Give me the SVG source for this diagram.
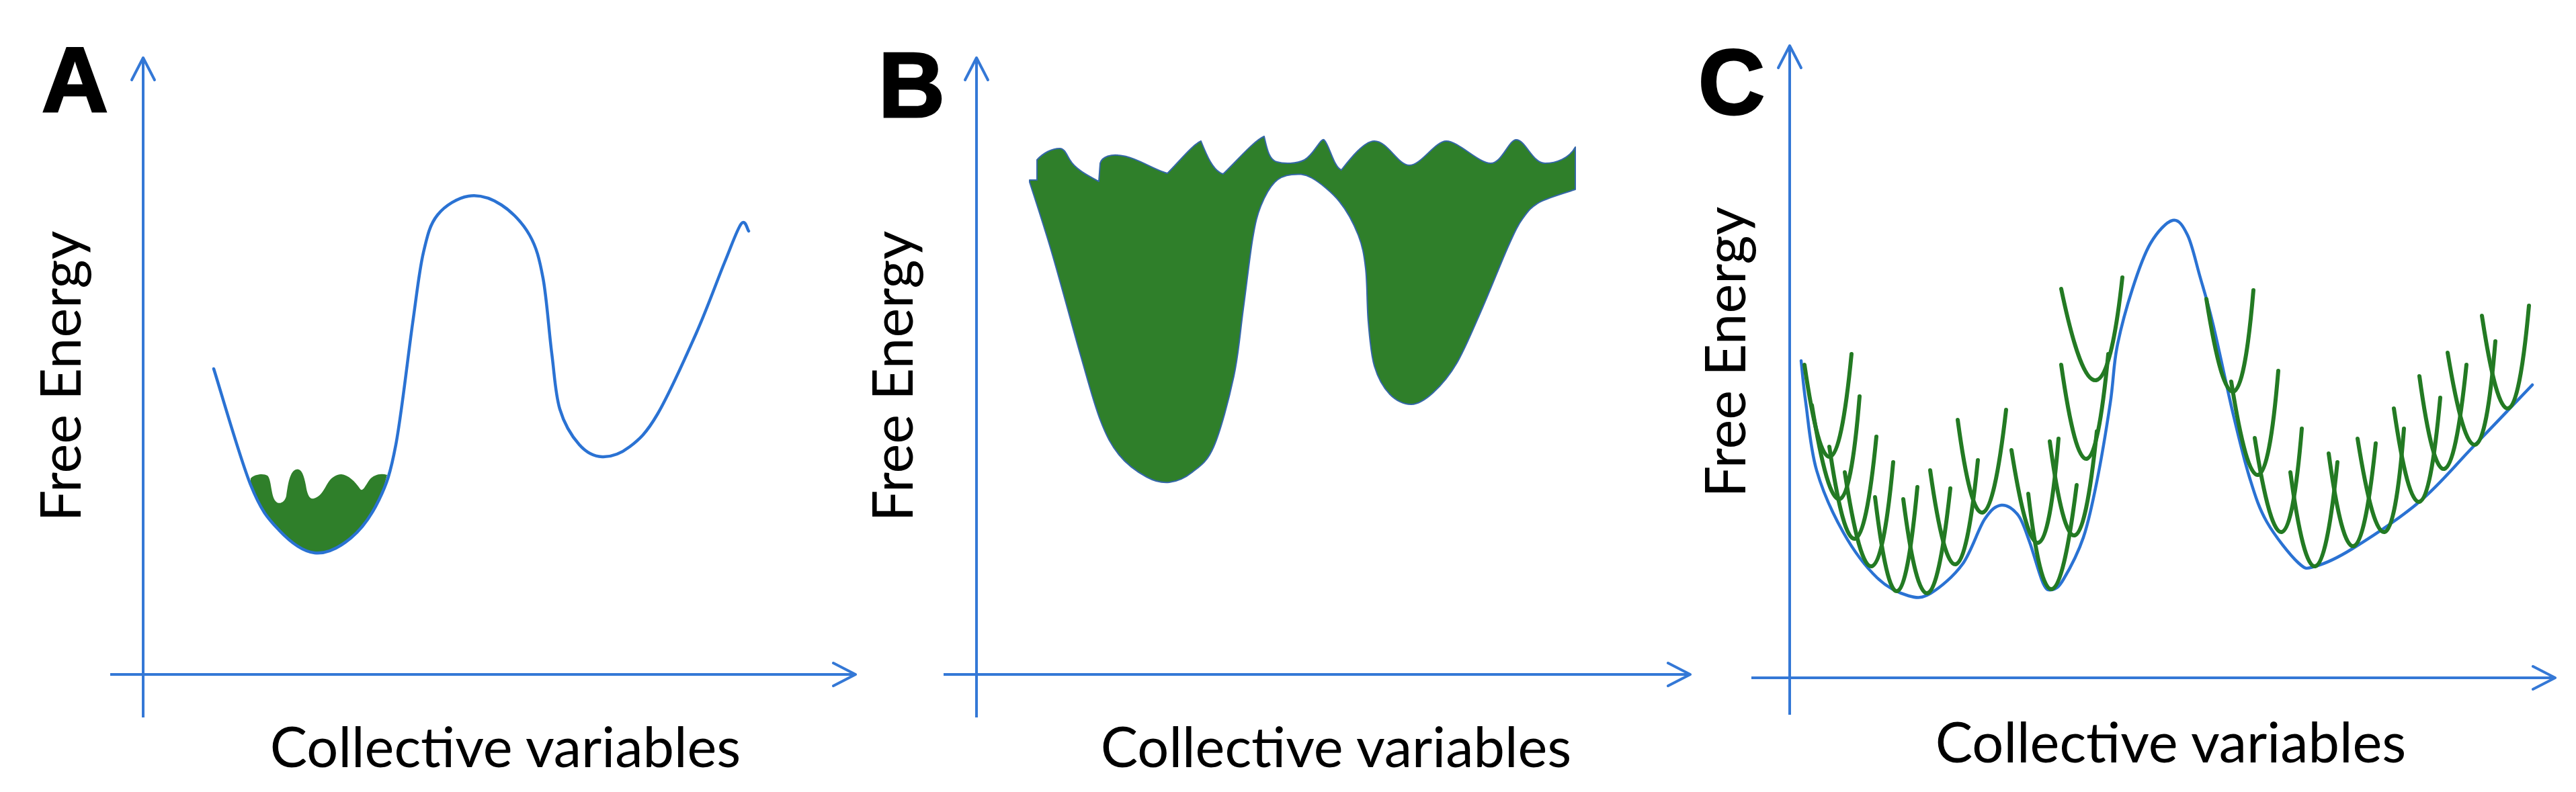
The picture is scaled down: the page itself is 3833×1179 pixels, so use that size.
<svg xmlns="http://www.w3.org/2000/svg" width="3833" height="1179" viewBox="0 0 3833 1179">
<style>
.bg{fill:#ffffff}
.axis{fill:none;stroke:#3478D6;stroke-width:4;marker-end:url(#arr)}
.curve{fill:none;stroke:#2A72D3;stroke-width:4.5;stroke-linecap:round;stroke-linejoin:round}
.fill{fill:#2F7F2A}
.fillB{fill:#2F7F2A;stroke:#3567A8;stroke-width:2;stroke-linejoin:round}
.para{fill:none;stroke:#237A23;stroke-width:6;stroke-linecap:round}
.lbl{font-family:Lato,"Liberation Sans",sans-serif;font-size:83px;fill:#000000}
.letter{font-family:"Liberation Sans",Arial,sans-serif;font-weight:700;font-size:137px;fill:#000000;stroke:#000000;stroke-width:3}
</style>
<defs>
<marker id="arr" markerUnits="userSpaceOnUse" viewBox="-40 -25 50 50" refX="0" refY="0" markerWidth="50" markerHeight="50" orient="auto" overflow="visible">
<path d="M-33,-17 L0,0 L-33,17" fill="none" stroke="#3478D6" stroke-width="4" stroke-linecap="round" stroke-linejoin="round"/>
</marker>
</defs>
<rect class="bg" x="0" y="0" width="3833" height="1179"/>

<g id="panel-A">
<text class="letter" x="62" y="166">A</text>
<g id="axes-A">
<line class="axis" x1="213" y1="1068" x2="213" y2="86"/>
<line class="axis" x1="164" y1="1004" x2="1273" y2="1004"/>
</g>
<text class="lbl" text-anchor="middle" transform="translate(120,560) rotate(-90)">Free Energy</text>
<text class="lbl" text-anchor="middle" x="752" y="1142">Collective variables</text>
<path id="fill-A" class="fill" d="M373,712 C378,706 392,704 398,708 C404,713 403,738 410,746 C415,752 424,748 426,738 C428,726 430,703 440,699 C448,696 452,706 455,722 C457,735 460,744 467,742 C475,740 480,733 486,722 C492,711 500,706 508,706 C518,707 528,716 536,728 C540,733 544,722 550,714 C556,707 566,704 576,707 C572,722 568,735 564,744 C552.8,767.2 538,787.8 522,801 C506,814.2 485.8,825 468,823 C450.2,821 430.8,805.8 415,789 C399.2,772.2 389.2,762 373,722 Z"/>
<path id="curve-A" class="curve" d="M318,549 C327.2,577.8 356.8,682 373,722 C389.2,762 399.2,772.2 415,789 C430.8,805.8 450.2,821 468,823 C485.8,825 506,814.2 522,801 C538,787.8 552.8,767.2 564,744 C575.2,720.8 580.7,705.8 589,662 C597.3,618.2 607.2,528.7 614,481 C620.8,433.3 623.8,402.8 630,376 C636.2,349.2 639.8,334 651,320 C662.2,306 681.2,294.5 697,292 C712.8,289.5 730.8,295.3 746,305 C761.2,314.7 777.7,331.8 788,350 C798.3,368.2 802.5,384.7 808,414 C813.5,443.3 816.8,493.5 821,526 C825.2,558.5 826.2,586.3 833,609 C839.8,631.7 851.5,650.2 862,662 C872.5,673.8 883.5,679.5 896,680 C908.5,680.5 923.3,675.5 937,665 C950.7,654.5 961.5,645.2 978,617 C994.5,588.8 1019.3,533.7 1036,496 C1052.7,458.3 1066.8,418.2 1078,391 C1089.2,363.8 1097,340.8 1103,333 C1109,325.2 1112.2,342.2 1114,344"/>
</g>

<g id="panel-B">
<text class="letter" x="1307" y="174">B</text>
<g id="axes-B">
<line class="axis" x1="1453" y1="1068" x2="1453" y2="86"/>
<line class="axis" x1="1404" y1="1004" x2="2515" y2="1004"/>
</g>
<text class="lbl" text-anchor="middle" transform="translate(1358,560) rotate(-90)">Free Energy</text>
<text class="lbl" text-anchor="middle" x="1988" y="1142">Collective variables</text>
<path id="fill-B" class="fillB" d="M1543,238 C1552,228 1565,221 1577,221 C1584,221 1587,230 1592,238 C1600,252 1620,262 1635,270 L1637,243 C1640,232 1655,230 1664,231 C1690,233 1715,252 1737,258 C1755,240 1775,215 1787,210 C1795,230 1805,255 1820,259 C1840,240 1865,210 1881,203 C1885,220 1888,238 1900,241 C1910,244 1930,244 1941,238 C1955,230 1965,205 1970,208 C1978,215 1985,250 1996,253 C2010,235 2030,210 2045,210 C2065,210 2080,246 2097,246 C2115,246 2135,210 2152,210 C2170,210 2200,243 2218,243 C2235,243 2245,208 2256,208 C2270,208 2280,243 2299,243 C2315,243 2335,236 2344,219 L2344,282 C2335.2,285.2 2304,293.8 2291,301 C2278,308.2 2273.7,314.3 2266,325 C2258.3,335.7 2255,342.8 2245,365 C2235,387.2 2218.8,428.8 2206,458 C2193.2,487.2 2180.3,518.8 2168,540 C2155.7,561.2 2143.3,574.7 2132,585 C2120.7,595.3 2110.7,601.7 2100,602 C2089.3,602.3 2077.2,596.5 2068,587 C2058.8,577.5 2050.3,562.8 2045,545 C2039.7,527.2 2038.2,504.2 2036,480 C2033.8,455.8 2034.5,421.7 2032,400 C2029.5,378.3 2027.5,366.7 2021,350 C2014.5,333.3 2004.5,314.2 1993,300 C1981.5,285.8 1963.8,271.7 1952,265 C1940.2,258.3 1931.2,259 1922,260 C1912.8,261 1904.7,263.2 1897,271 C1889.3,278.8 1881.5,293 1876,307 C1870.5,321 1868.3,329.5 1864,355 C1859.7,380.5 1854.7,425.8 1850,460 C1845.3,494.2 1843.3,525.8 1836,560 C1828.7,594.2 1816.3,641.2 1806,665 C1795.7,688.8 1785,694.2 1774,703 C1763,711.8 1751.3,716.8 1740,718 C1728.7,719.2 1718.5,716.8 1706,710 C1693.5,703.2 1676.5,691.2 1665,677 C1653.5,662.8 1646.7,650.2 1637,625 C1627.3,599.8 1619,567.5 1607,526 C1595,484.5 1577.5,418.5 1565,376 C1552.5,333.5 1537.5,288.5 1532,271 L1532,268 L1543,268 Z"/>
</g>

<g id="panel-C">
<text class="letter" x="2527" y="170">C</text>
<g id="axes-C">
<line class="axis" x1="2663" y1="1064" x2="2663" y2="68"/>
<line class="axis" x1="2606" y1="1009" x2="3802" y2="1009"/>
</g>
<text class="lbl" text-anchor="middle" transform="translate(2597,524) rotate(-90)">Free Energy</text>
<text class="lbl" text-anchor="middle" x="3230" y="1135">Collective variables</text>
<path id="curve-C" class="curve" d="M2680,537 C2681.2,547.5 2683.2,572.8 2687,600 C2690.8,627.2 2693.7,667.8 2703,700 C2712.3,732.2 2728,766.3 2743,793 C2758,819.7 2776.8,844.3 2793,860 C2809.2,875.7 2826.7,883.2 2840,887 C2853.3,890.8 2859.7,890.8 2873,883 C2886.3,875.2 2906.7,858.3 2920,840 C2933.3,821.7 2943.3,787.7 2953,773 C2962.7,758.3 2969.7,753 2978,752 C2986.3,751 2996,757.8 3003,767 C3010,776.2 3013.8,790.2 3020,807 C3026.2,823.8 3034.5,856.2 3040,868 C3045.5,879.8 3048,878.8 3053,878 C3058,877.2 3062.2,876 3070,863 C3077.8,850 3091.7,824.3 3100,800 C3108.3,775.7 3113.3,750.3 3120,717 C3126.7,683.7 3135,633.3 3140,600 C3145,566.7 3144.5,545.3 3150,517 C3155.5,488.7 3164.7,455.8 3173,430 C3181.3,404.2 3190,379 3200,362 C3210,345 3223.8,330 3233,328 C3242.2,326 3248.3,336.3 3255,350 C3261.7,363.7 3266.7,387.8 3273,410 C3279.3,432.2 3284.7,448.5 3293,483 C3301.3,517.5 3314,579.2 3323,617 C3332,654.8 3338.7,683.3 3347,710 C3355.3,736.7 3360.8,755.7 3373,777 C3385.2,798.3 3408,827 3420,838 C3432,849 3431.7,846.5 3445,843 C3458.3,839.5 3474.2,833 3500,817 C3525.8,801 3570,772.3 3600,747 C3630,721.7 3652,694 3680,665 C3708,636 3753.3,588.3 3768,573"/>
<g id="parabolas-C">
<path class="para" d="M2685,543 Q2726,825 2755,527"/>
<path class="para" d="M2696,603 Q2742.5,889.5 2767,590"/>
<path class="para" d="M2722,665 Q2763,946.5 2792,650"/>
<path class="para" d="M2745,703 Q2789,990.5 2817,688"/>
<path class="para" d="M2790,740 Q2824.5,1027.5 2853,725"/>
<path class="para" d="M2832,743 Q2869,1031 2902,727"/>
<path class="para" d="M2872,700 Q2912.5,987.5 2943,685"/>
<path class="para" d="M2913,625 Q2951,908.5 2985,610"/>
<path class="para" d="M2993,670 Q3038,954.5 3063,653"/>
<path class="para" d="M3018,735 Q3052,1025.5 3090,722"/>
<path class="para" d="M3050,657 Q3089,944.5 3120,642"/>
<path class="para" d="M3067,543 Q3108,831 3137,527"/>
<path class="para" d="M3067,430 Q3125.5,710.5 3158,413"/>
<path class="para" d="M3283,445 Q3328,727.5 3353,432"/>
<path class="para" d="M3320,568 Q3365,854 3390,552"/>
<path class="para" d="M3355,652 Q3400,939 3425,638"/>
<path class="para" d="M3408,703 Q3447,990.5 3478,688"/>
<path class="para" d="M3465,675 Q3504,958.5 3535,660"/>
<path class="para" d="M3508,653 Q3553.5,938.5 3577,638"/>
<path class="para" d="M3562,608 Q3603.5,894 3631,592"/>
<path class="para" d="M3600,560 Q3639,844.5 3670,543"/>
<path class="para" d="M3642,525 Q3688.5,807.5 3713,508"/>
<path class="para" d="M3693,470 Q3736,753.5 3763,455"/>
</g>
</g>
</svg>
